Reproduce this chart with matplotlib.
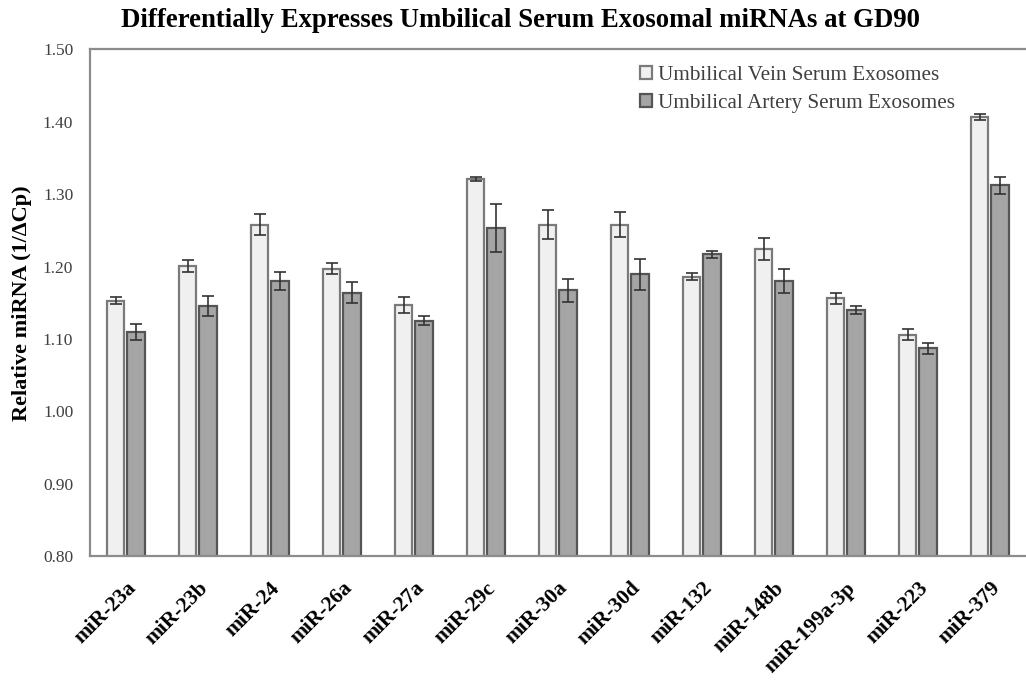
"""
Differentially expressed umbilical serum exosomal miRNAs at GD90
(umbilical vein vs artery), grouped bar chart with error bars.
"""

import matplotlib.pyplot as plt
import numpy as np

plt.rcParams['font.family'] = ['Liberation Serif', 'DejaVu Serif']
plt.rcParams['axes.unicode_minus'] = False

mirnas = ['miR-23a', 'miR-23b', 'miR-24', 'miR-26a', 'miR-27a', 'miR-29c',
          'miR-30a', 'miR-30d', 'miR-132', 'miR-148b', 'miR-199a-3p',
          'miR-223', 'miR-379']

vein = [1.153, 1.201, 1.258, 1.197, 1.147, 1.321, 1.258, 1.258, 1.186,
        1.224, 1.156, 1.106, 1.407]
vein_err = [0.005, 0.008, 0.014, 0.008, 0.011, 0.003, 0.020, 0.017, 0.005,
            0.015, 0.008, 0.008, 0.004]

artery = [1.110, 1.145, 1.180, 1.164, 1.125, 1.253, 1.167, 1.189, 1.217,
          1.180, 1.140, 1.087, 1.312]
artery_err = [0.011, 0.014, 0.012, 0.014, 0.006, 0.033, 0.016, 0.022, 0.005,
              0.017, 0.005, 0.008, 0.012]

yticks = [0.80, 0.90, 1.00, 1.10, 1.20, 1.30, 1.40, 1.50]


def create_figure():
    fig = plt.figure(figsize=(10.26, 6.81), dpi=100)
    ax = fig.add_axes([0.0877, 0.1836, 0.9123, 0.7438])

    x = np.arange(len(mirnas))
    width = 0.24
    err_kw = dict(ecolor='#333333', elinewidth=1.2, capsize=4, capthick=1.2)

    ax.bar(x - 0.145, vein, width, yerr=vein_err,
           color='#f0f0f0', edgecolor='#7a7a7a', linewidth=1.6,
           error_kw=err_kw, label='Umbilical Vein Serum Exosomes')
    ax.bar(x + 0.14, artery, width, yerr=artery_err,
           color='#a5a5a5', edgecolor='#555555', linewidth=1.6,
           error_kw=err_kw, label='Umbilical Artery Serum Exosomes')

    ax.set_ylim(0.80, 1.50)
    ax.set_xlim(-0.5, len(mirnas) - 0.5)
    ax.set_yticks(yticks)
    ax.set_yticklabels([f'{t:.2f}' for t in yticks], fontsize=12.5,
                       color='#404040')
    ax.tick_params(axis='y', length=0, pad=12)
    ax.tick_params(axis='x', length=0, pad=16)
    ax.set_xticks(x)
    ax.set_xticklabels(mirnas, rotation=45, ha='right', va='top',
                       rotation_mode='anchor', fontsize=15.5,
                       fontweight='bold')

    ax.set_ylabel('Relative miRNA (1/\u0394Cp)', fontsize=16,
                  fontweight='bold', labelpad=8)
    ax.set_title('Differentially Expresses Umbilical Serum Exosomal miRNAs at GD90',
                 fontsize=19.3, fontweight='bold', pad=16, x=0.46)

    for side in ['left', 'top', 'bottom']:
        ax.spines[side].set_color('#8c8c8c')
        ax.spines[side].set_linewidth(1.6)
    ax.spines['right'].set_visible(False)

    ax.legend(loc='upper left', bbox_to_anchor=(0.588, 0.967), frameon=False,
              fontsize=15.2, handlelength=0.55, handleheight=0.55,
              handletextpad=0.3, labelspacing=0.42, borderpad=0,
              borderaxespad=0, labelcolor='#404040')

    fig.savefig('out.png', dpi=100, facecolor='white')


if __name__ == "__main__":
    create_figure()
